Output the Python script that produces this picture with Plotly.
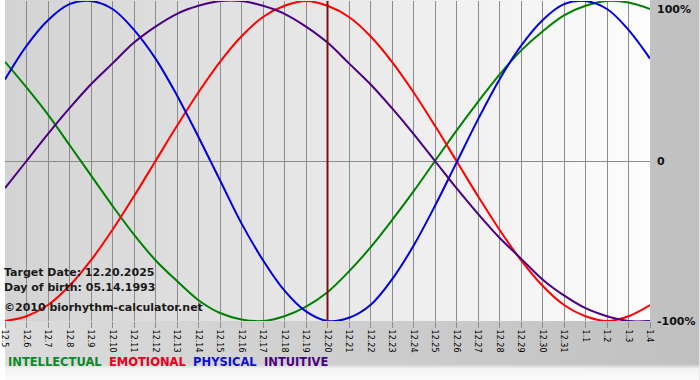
import base64
import plotly.graph_objects as go

# ---- data ----
dates = ["12.5", "12.6", "12.7", "12.8", "12.9", "12.10", "12.11", "12.12", "12.13",
         "12.14", "12.15", "12.16", "12.17", "12.18", "12.19", "12.20", "12.21", "12.22",
         "12.23", "12.24", "12.25", "12.26", "12.27", "12.28", "12.29", "12.30", "12.31",
         "1.1", "1.2", "1.3", "1.4"]

intellectual = [0.62, 0.46, 0.29, 0.10, -0.09, -0.28, -0.46, -0.62, -0.75, -0.87, -0.95,
                -0.99, -1.00, -0.97, -0.91, -0.82, -0.69, -0.54, -0.37, -0.19, 0.00,
                0.19, 0.37, 0.54, 0.69, 0.81, 0.91, 0.97, 1.00, 0.99, 0.95]
emotional = [-1.00, -0.97, -0.90, -0.78, -0.62, -0.43, -0.22, 0.00, 0.22, 0.43, 0.62,
             0.78, 0.90, 0.97, 1.00, 0.97, 0.90, 0.78, 0.62, 0.43, 0.22, 0.00, -0.22,
             -0.43, -0.62, -0.78, -0.90, -0.97, -1.00, -0.97, -0.90]
physical = [0.51, 0.72, 0.88, 0.98, 1.00, 0.95, 0.82, 0.64, 0.41, 0.15, -0.12, -0.39,
            -0.62, -0.81, -0.94, -1.00, -0.98, -0.90, -0.74, -0.53, -0.28, -0.01, 0.26,
            0.51, 0.72, 0.88, 0.98, 1.00, 0.95, 0.82, 0.64]
intuitive = [-0.17, 0.00, 0.17, 0.33, 0.48, 0.61, 0.74, 0.84, 0.92, 0.97, 1.00, 1.00,
             0.97, 0.92, 0.84, 0.74, 0.61, 0.48, 0.33, 0.17, 0.00, -0.17, -0.33, -0.48,
             -0.61, -0.74, -0.84, -0.92, -0.97, -1.00, -1.00]

series_names = ["INTELLECTUAL", "EMOTIONAL", "PHYSICAL", "INTUITIVE"]
series_colors = ["#008000", "#ff0000", "#0000dd", "#4b0082"]
legend_colors = ["#0a8a2a", "#e8001c", "#1010d0", "#4b0082"]

target_date = "12.20"
y_tick_vals = [1, 0, -1]
y_tick_text = ["100%", "0", "-100%"]
info_lines = ["Target Date: 12.20.2025", "Day of birth: 05.14.1993",
              "\u00a92010 biorhythm-calculator.net"]

# ---- figure ----
W, H = 700, 380
ML, MR, MT, MB = 0, 50, 1, 59
PW, PH = W - ML - MR, H - MT - MB

x = list(range(len(dates)))
fig = go.Figure()
for name, vals, col in zip(series_names, [intellectual, emotional, physical, intuitive],
                           series_colors):
    fig.add_trace(go.Scatter(x=x, y=vals, mode="lines", name=name,
                             line=dict(color=col, width=2, shape="spline", smoothing=1),
                             showlegend=False, hoverinfo="skip"))

# target date line
ti = dates.index(target_date)
fig.add_shape(type="line", xref="x", yref="paper", x0=ti, x1=ti, y0=0, y1=1,
              line=dict(color="#7a1010", width=2), layer="above")

# background gradients as an SVG image
svg = f'''<svg xmlns="http://www.w3.org/2000/svg" width="{W}" height="{H}" viewBox="0 0 {W} {H}" preserveAspectRatio="none">
<defs>
<linearGradient id="o" x1="0" y1="0" x2="1" y2="0">
<stop offset="0" stop-color="#dcdcdc"/><stop offset="1" stop-color="#c0c0c0"/></linearGradient>
<linearGradient id="p" x1="0" y1="0" x2="1" y2="0">
<stop offset="0" stop-color="#d3d3d3"/><stop offset="1" stop-color="#fdfdfd"/></linearGradient>
<linearGradient id="b" x1="0" y1="0" x2="0" y2="1">
<stop offset="0" stop-color="#f0f0f0" stop-opacity="0"/><stop offset="0.3" stop-color="#f4f4f4" stop-opacity="1"/><stop offset="1" stop-color="#fafafa"/></linearGradient>
</defs>
<rect x="0" y="0" width="{W}" height="{H}" fill="url(#o)"/>
<rect x="0" y="364" width="{W}" height="{H-364}" fill="url(#b)"/>
<rect x="{ML}" y="{MT - 1}" width="{PW}" height="{PH + 1}" fill="url(#p)"/>
</svg>'''
src = "data:image/svg+xml;base64," + base64.b64encode(svg.encode()).decode()
fig.add_layout_image(dict(source=src, xref="paper", yref="paper",
                          x=-ML / PW, y=1 + MT / PH, sizex=W / PW, sizey=H / PH,
                          xanchor="left", yanchor="top", sizing="stretch", layer="below"))

annotations = []
# right y labels
for v, t in zip(y_tick_vals, y_tick_text):
    annotations.append(dict(text="<b>" + t + "</b>", x=1, xref="paper", y=v, yref="y",
                            xanchor="left", yanchor="top" if v == 1 else "middle",
                            xshift=5, showarrow=False,
                            font=dict(family="DejaVu Sans", size=11, color="#111111")))
# info text
for i, t in enumerate(info_lines):
    py = [272, 287, 307][i]
    annotations.append(dict(text="<b>" + t + "</b>", x=0, xref="paper", xshift=-3,
                            y=(MT + PH - py) / PH, yref="paper", xanchor="left",
                            yanchor="middle", showarrow=False,
                            font=dict(family="DejaVu Sans", size=11, color="#1a1a1a")))
# legend text
leg = "\u00a0\u00a0".join(f'<span style="color:{c}"><b>{n}</b></span>'
                          for n, c in zip(series_names, legend_colors))
annotations.append(dict(text=leg, x=0, xref="paper", xshift=1,
                        y=(MT + PH - 362) / PH, yref="paper", xanchor="left",
                        yanchor="middle", showarrow=False,
                        font=dict(family="DejaVu Sans", size=11.5)))

fig.update_layout(
    width=W, height=H, margin=dict(l=ML, r=MR, t=MT, b=MB, pad=0),
    paper_bgcolor="rgba(0,0,0,0)", plot_bgcolor="rgba(0,0,0,0)",
    showlegend=False, annotations=annotations,
    xaxis=dict(range=[0, len(dates) - 1], tickmode="array", tickvals=x, ticktext=dates,
               tickangle=90, showgrid=True, gridcolor="#8c8c8c", gridwidth=1,
               ticks="outside", ticklen=6, tickcolor="#8c8c8c", zeroline=False,
               showline=False, fixedrange=True, ticklabeloverflow="allow",
               tickfont=dict(family="DejaVu Sans", size=8, color="#000000")),
    yaxis=dict(range=[-1, 1], tickmode="array", tickvals=[-1, 0], showticklabels=False,
               showgrid=True, gridcolor="#8c8c8c", gridwidth=1, zeroline=False,
               showline=False, fixedrange=True),
)

fig.write_html("out.html", config={"displayModeBar": False},
               post_script="document.body.style.margin='0';document.body.style.overflow='hidden';")
